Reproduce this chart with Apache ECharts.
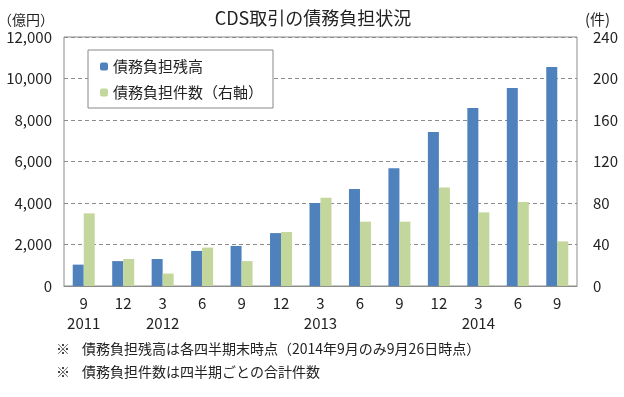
<!DOCTYPE html>
<html>
<head>
<meta charset="utf-8">
<script src="https://cdn.jsdelivr.net/npm/echarts@6/dist/echarts.min.js"></script>
<style>
  html, body { margin: 0; padding: 0; background: #fff; }
  #chart { width: 624px; height: 397px; }
</style>
</head>
<body>
<div id="chart"></div>
<script>
// 四半期（月）と年ラベル
const months = ['9', '12', '3', '6', '9', '12', '3', '6', '9', '12', '3', '6', '9']
const years = ['2011', '', '2012', '', '', '', '2013', '', '', '', '2014', '', '']
// 債務負担残高（億円）
const balance = [1030, 1200, 1300, 1690, 1930, 2550, 4000, 4670, 5680, 7420, 8580, 9540, 10550]
// 債務負担件数（件、右軸）
const counts = [70, 26, 12, 37, 24, 52, 85, 62, 62, 95, 71, 81, 43]
const leftTicks = { min: 0, max: 12000, interval: 2000 }
const rightTicks = { min: 0, max: 240, interval: 40 }

const font = '"Noto Sans CJK JP", "Noto Sans", sans-serif'
const categories = months.map((m, i) => years[i] ? m + '\n' + years[i] : m)

const chart = echarts.init(document.getElementById('chart'))
chart.setOption({
  animation: false,
  textStyle: { fontFamily: font },
  title: {
    text: 'CDS取引の債務負担状況',
    left: 308,
    textAlign: 'center',
    top: 4,
    textStyle: { fontSize: 18, fontWeight: 'normal', color: '#222', fontFamily: font }
  },
  legend: {
    orient: 'vertical',
    left: 88,
    top: 50,
    padding: [9, 10, 8, 12],
    itemGap: 11,
    itemWidth: 8,
    itemHeight: 8,
    borderColor: '#888',
    borderWidth: 1,
    backgroundColor: '#fff',
    textStyle: { fontSize: 15, color: '#222', fontFamily: font },
    data: ['債務負担残高', '債務負担件数（右軸）']
  },
  grid: {
    left: 64, right: 47, top: 37, bottom: 111,
    outerBoundsMode: 'none',
    show: true, borderColor: '#8c8c8c', borderWidth: 1
  },
  xAxis: {
    type: 'category',
    data: categories,
    axisLine: { lineStyle: { color: '#8c8c8c' } },
    axisTick: { show: false },
    axisLabel: { color: '#222', fontSize: 15, lineHeight: 20, margin: 7, interval: 0 }
  },
  yAxis: [
    {
      type: 'value',
      ...leftTicks,
      name: '（億円）',
      nameLocation: 'end',
      nameGap: 10,
      nameTextStyle: { fontSize: 14, color: '#222', align: 'right', padding: [0, 10, 0, 0] },
      axisLine: { show: false },
      axisTick: { show: false },
      axisLabel: {
        color: '#222', fontSize: 15, margin: 12,
        formatter: v => v.toLocaleString('en-US')
      },
      splitLine: { lineStyle: { color: '#8c8c8c', type: [4, 3] } }
    },
    {
      type: 'value',
      ...rightTicks,
      name: '(件)',
      nameLocation: 'end',
      nameGap: 10,
      nameTextStyle: { fontSize: 15, color: '#222', align: 'left', padding: [0, 0, 0, 8] },
      axisLine: { show: false },
      axisTick: { show: false },
      axisLabel: { color: '#222', fontSize: 15, margin: 16 },
      splitLine: { show: false }
    }
  ],
  series: [
    {
      name: '債務負担残高',
      type: 'bar',
      yAxisIndex: 0,
      data: balance,
      barWidth: 11,
      barGap: '0%',
      itemStyle: { color: '#4f81bd' }
    },
    {
      name: '債務負担件数（右軸）',
      type: 'bar',
      yAxisIndex: 1,
      data: counts,
      barWidth: 11,
      barGap: '0%',
      itemStyle: { color: '#c3d69b' }
    }
  ],
  graphic: [
    {
      type: 'text', left: 56, top: 342,
      style: { text: '※', fontSize: 14, fill: '#222', fontFamily: font }
    },
    {
      type: 'text', left: 82, top: 342,
      style: { text: '債務負担残高は各四半期末時点（2014年9月のみ9月26日時点）', fontSize: 14, fill: '#222', fontFamily: font }
    },
    {
      type: 'text', left: 56, top: 365,
      style: { text: '※', fontSize: 14, fill: '#222', fontFamily: font }
    },
    {
      type: 'text', left: 82, top: 365,
      style: { text: '債務負担件数は四半期ごとの合計件数', fontSize: 14, fill: '#222', fontFamily: font }
    }
  ]
})
</script>
</body>
</html>
